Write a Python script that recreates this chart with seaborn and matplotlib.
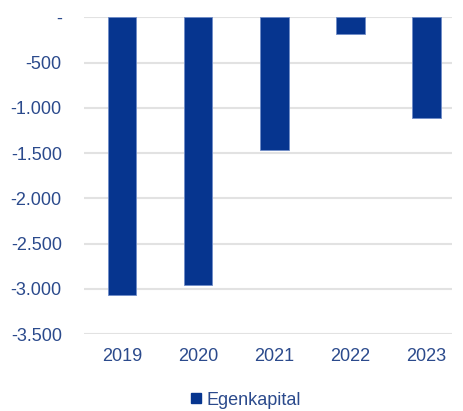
import matplotlib
matplotlib.use("Agg")
import matplotlib.pyplot as plt
from matplotlib.ticker import FuncFormatter
from matplotlib.lines import Line2D
import seaborn as sns
import pandas as pd

# data
aar = ["2019", "2020", "2021", "2022", "2023"]
egenkapital = [-3070, -2960, -1460, -180, -1110]

df = pd.DataFrame({"aar": aar, "egenkapital": egenkapital})

sns.set_theme(style="white")
plt.rcParams["font.family"] = ["Liberation Sans", "DejaVu Sans"]

blaa = "#06358F"
tekst = "#2B4A8C"

fig = plt.figure(figsize=(4.64, 4.11), dpi=100)
ax = fig.add_axes([84 / 464, 1 - 334 / 411, (452 - 84) / 464, (334 - 17.5) / 411])

sns.barplot(data=df, x="aar", y="egenkapital", color=blaa, width=0.38,
            saturation=1, ax=ax, edgecolor="#6F8CC8", linewidth=0.6)

ax.set_ylim(-3500, 0)
ax.set_xlim(-0.5, 4.34)
ax.set_yticks(range(-3500, 1, 500))


def fmt(v, pos):
    if v == 0:
        return "-"
    return f"{int(v):,}".replace(",", ".")


ax.yaxis.set_major_formatter(FuncFormatter(fmt))
ax.yaxis.grid(True, color="#E2E2E2", linewidth=1.5)
ax.set_axisbelow(True)
for s in ax.spines.values():
    s.set_visible(False)
ax.tick_params(axis="y", length=0, pad=16, labelsize=13, labelcolor=tekst)
ax.tick_params(axis="x", length=0, pad=10, labelsize=13, labelcolor=tekst)
ax.set_xlabel("")
ax.set_ylabel("")

handle = Line2D([], [], marker="s", linestyle="", color=blaa, markersize=7)
fig.legend([handle], ["Egenkapital"], loc="center",
           bbox_to_anchor=(246 / 464, 1 - 400 / 411), frameon=False,
           fontsize=13, labelcolor=tekst, handlelength=0.6, handletextpad=0.3)

fig.savefig("out.png", dpi=100)
